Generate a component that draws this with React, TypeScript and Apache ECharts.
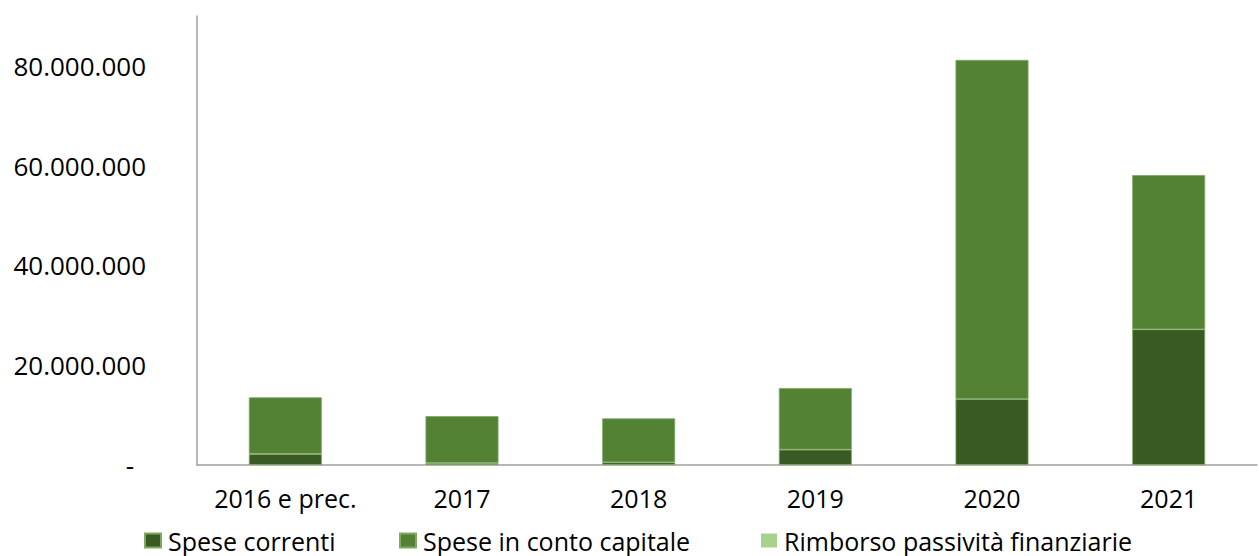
import React, { useEffect, useRef } from "react";
import * as echarts from "echarts";

const categories = ["2016 e prec.", "2017", "2018", "2019", "2020", "2021"];
const speseCorrenti = [2200000, 400000, 540000, 3070000, 13200000, 27200000];
const speseCapitale = [11370000, 9400000, 8810000, 12360000, 68000000, 30900000];
const rimborso = [0, 0, 0, 0, 0, 0];
const seriesNames = ["Spese correnti", "Spese in conto capitale", "Rimborso passività finanziarie"];
const colors = ["#3a5a23", "#548235", "#a9d18e"];

const FONT = "Open Sans";

function fmt(v: number): string {
  if (v === 0) return "{d|-}";
  return String(Math.round(v)).replace(/\B(?=(\d{3})+(?!\d))/g, ".");
}

export default function App() {
  const ref = useRef<HTMLDivElement>(null);
  useEffect(() => {
    if (!ref.current) return;
    const chart = echarts.init(ref.current, undefined, { renderer: "svg" });
    const values = [speseCorrenti, speseCapitale, rimborso];
    const legendLefts = [144, 399, 761];
    chart.setOption({
      animation: false,
      textStyle: { fontFamily: FONT },
      grid: { left: 197, right: 2, top: 16, bottom: 91, containLabel: false },
      legend: seriesNames.map((n, i) => ({
        data: [n],
        left: legendLefts[i],
        top: 528,
        padding: 0,
        itemWidth: 16,
        itemHeight: 14,
        itemGap: 8,
        icon: "rect",
        selectedMode: false,
        textStyle: { fontFamily: FONT, fontSize: 25, color: "#000", padding: [0, 0, 0, 2] },
      })),
      xAxis: {
        type: "category",
        data: categories,
        axisLine: { show: true, lineStyle: { color: "#a0a0a0", width: 1.5 } },
        axisTick: { show: false },
        axisLabel: { color: "#000", fontSize: 25, fontFamily: FONT, margin: 20, interval: 0 },
      },
      yAxis: {
        type: "value",
        min: 0,
        max: 90000000,
        interval: 20000000,
        splitLine: { show: false },
        axisLine: { show: true, lineStyle: { color: "#a0a0a0", width: 1.5 } },
        axisTick: { show: false },
        axisLabel: {
          color: "#000",
          fontSize: 26,
          fontFamily: FONT,
          margin: 51,
          showMaxLabel: false,
          formatter: (v: number) => (v > 85000000 ? "" : fmt(v)),
          rich: { d: { fontSize: 26, fontFamily: FONT, color: "#000", padding: [0, 12, 0, 0] } },
        },
      },
      series: seriesNames.map((n, i) => ({
        name: n,
        type: "bar",
        stack: "total",
        barWidth: "41.3%",
        data: values[i],
        itemStyle: { color: colors[i], borderColor: "#7fa863", borderWidth: i === 2 ? 0 : 0.8 },
      })),
    });
    return () => chart.dispose();
  }, []);
  return <div ref={ref} style={{ width: 1259, height: 556, position: "absolute", left: 0, top: 0 }} />;
}
